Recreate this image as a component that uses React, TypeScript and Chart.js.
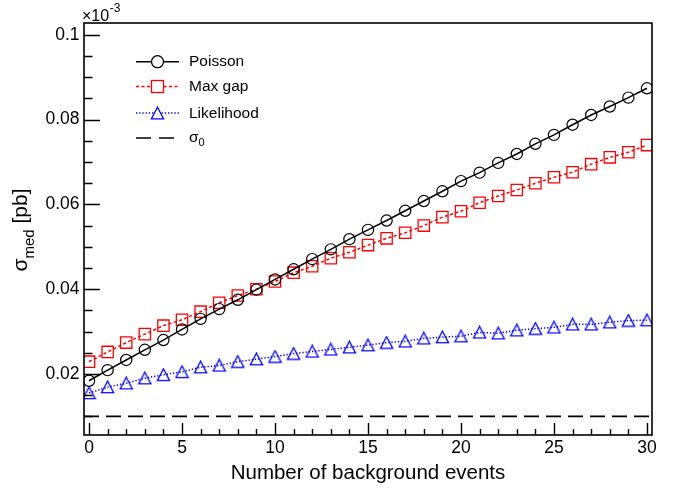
import React, { useEffect, useRef } from 'react';
import { Chart, registerables } from 'chart.js';

Chart.register(...registerables);

// ---------- data ----------
const BKG = [0, 1, 2, 3, 4, 5, 6, 7, 8, 9, 10, 11, 12, 13, 14, 15, 16, 17, 18, 19, 20, 21, 22, 23, 24, 25, 26, 27, 28, 29, 30];
const POISSON = [0.0184, 0.0209, 0.0233, 0.0257, 0.0280, 0.0305, 0.0330, 0.0353, 0.0375, 0.0399, 0.0423, 0.0447, 0.0471, 0.0494, 0.0518, 0.0540, 0.0562, 0.0585, 0.0608, 0.0631, 0.0655, 0.0675, 0.0698, 0.0719, 0.0743, 0.0764, 0.0788, 0.0811, 0.0831, 0.0852, 0.0874];
const MAX_GAP = [0.0229, 0.0252, 0.0274, 0.0294, 0.0314, 0.0328, 0.0347, 0.0368, 0.0385, 0.0400, 0.0418, 0.0439, 0.0454, 0.0473, 0.0487, 0.0504, 0.0520, 0.0533, 0.0550, 0.0570, 0.0584, 0.0604, 0.0620, 0.0634, 0.0650, 0.0664, 0.0676, 0.0695, 0.0711, 0.0723, 0.0740];
const LIKELIHOOD = [0.0155, 0.0169, 0.0178, 0.0190, 0.0198, 0.0205, 0.0216, 0.0220, 0.0229, 0.0235, 0.0241, 0.0248, 0.0253, 0.0258, 0.0263, 0.0268, 0.0274, 0.0277, 0.0284, 0.0287, 0.0289, 0.0298, 0.0296, 0.0303, 0.0307, 0.0310, 0.0317, 0.0317, 0.0322, 0.0326, 0.0327];
const SIGMA0 = 0.01;

const X_MIN = -0.27;
const X_MAX = 30.27;
const Y_MIN = 0.0056;
const Y_MAX = 0.1028;

const X_TICKS = [0, 5, 10, 15, 20, 25, 30];
const X_TICK_LABELS = ['0', '5', '10', '15', '20', '25', '30'];
const Y_TICKS = [0.02, 0.04, 0.06, 0.08, 0.1];
const Y_TICK_LABELS = ['0.02', '0.04', '0.06', '0.08', '0.1'];
const X_MINOR_STEP = 1;
const Y_MINOR_STEP = 0.005;

const SERIES_NAMES = ['Poisson', 'Max gap', 'Likelihood'];
const X_TITLE = 'Number of background events';
const Y_TITLE = ['σ', 'med', ' [pb]'];
const SIGMA0_LABEL = ['σ', '0'];
const EXPONENT = ['×10', '-3'];

const FONT = '"Liberation Sans", Arial, Helvetica, sans-serif';
const RED = '#ff0000';
const BLUE = '#0000ff';
const BLACK = '#000000';

function makeTriangle(color: string): HTMLCanvasElement {
  const c = document.createElement('canvas');
  c.width = 15;
  c.height = 14;
  const ctx = c.getContext('2d')!;
  ctx.strokeStyle = color;
  ctx.lineWidth = 1.3;
  ctx.beginPath();
  ctx.moveTo(7.5, 1);
  ctx.lineTo(13.6, 12.6);
  ctx.lineTo(1.4, 12.6);
  ctx.closePath();
  ctx.stroke();
  return c;
}

export default function App() {
  const ref = useRef<HTMLCanvasElement | null>(null);

  useEffect(() => {
    if (!ref.current) return;
    const tri = makeTriangle(BLUE);

    const decor = {
      id: 'rootDecor',
      afterDraw(chart: any) {
        const ctx: CanvasRenderingContext2D = chart.ctx;
        const { left, right, top, bottom } = chart.chartArea;
        const xs = chart.scales.x;
        const ys = chart.scales.y;
        ctx.save();
        ctx.strokeStyle = BLACK;
        ctx.fillStyle = BLACK;

        // frame
        ctx.lineWidth = 1.6;
        ctx.strokeRect(left, top, right - left, bottom - top);

        // x ticks (inside)
        ctx.lineWidth = 1.4;
        ctx.beginPath();
        for (let k = Math.ceil(X_MIN / X_MINOR_STEP); k * X_MINOR_STEP <= X_MAX; k++) {
          const v = k * X_MINOR_STEP;
          const px = Math.round(xs.getPixelForValue(v)) + 0.5;
          const major = X_TICKS.includes(v);
          ctx.moveTo(px, bottom);
          ctx.lineTo(px, bottom - (major ? 12 : 6));
        }
        // y ticks (inside)
        for (let k = Math.ceil(Y_MIN / Y_MINOR_STEP); k * Y_MINOR_STEP <= Y_MAX + 1e-9; k++) {
          const v = k * Y_MINOR_STEP;
          const py = Math.round(ys.getPixelForValue(v)) + 0.5;
          const major = Y_TICKS.some((t) => Math.abs(t - v) < 1e-9);
          ctx.moveTo(left, py);
          ctx.lineTo(left + (major ? 16 : 8.5), py);
        }
        ctx.stroke();

        // exponent label
        ctx.textBaseline = 'alphabetic';
        ctx.textAlign = 'left';
        ctx.font = `16px ${FONT}`;
        ctx.fillText(EXPONENT[0], 82, 21);
        const w10 = ctx.measureText(EXPONENT[0]).width;
        ctx.font = `12px ${FONT}`;
        ctx.fillText(EXPONENT[1], 82 + w10 + 0.5, 12);

        // x title
        ctx.font = `20.5px ${FONT}`;
        ctx.textAlign = 'center';
        ctx.fillText(X_TITLE, (left + right) / 2, 479);

        // y title (rotated, with subscript)
        ctx.save();
        ctx.translate(27, 230);
        ctx.rotate(-Math.PI / 2);
        ctx.textAlign = 'left';
        const bigF = `21px ${FONT}`;
        const subF = `15px ${FONT}`;
        ctx.font = bigF;
        const w1 = ctx.measureText(Y_TITLE[0]).width;
        const w3 = ctx.measureText(Y_TITLE[2]).width;
        ctx.font = subF;
        const w2 = ctx.measureText(Y_TITLE[1]).width;
        let sx = -(w1 + w2 + w3) / 2;
        ctx.font = bigF;
        ctx.fillText(Y_TITLE[0], sx, 0);
        sx += w1;
        ctx.font = subF;
        ctx.fillText(Y_TITLE[1], sx, 7);
        sx += w2;
        ctx.font = bigF;
        ctx.fillText(Y_TITLE[2], sx, 0);
        ctx.restore();

        // legend
        const lx1 = 136;
        const lx2 = 179;
        const mx = 157.5;
        const tx = 189;
        const rows = [61.7, 86.5, 113, 138];
        const styles = [
          { color: BLACK, dash: [] as number[], marker: 'circle' },
          { color: RED, dash: [3, 2.5], marker: 'rect' },
          { color: BLUE, dash: [1.3, 1.9], marker: 'tri' },
          { color: BLACK, dash: [15, 8], marker: 'none' },
        ];
        styles.forEach((s, i) => {
          const y = rows[i];
          ctx.save();
          ctx.strokeStyle = s.color;
          ctx.lineWidth = i === 3 ? 1.6 : 1.5;
          ctx.setLineDash(s.dash);
          ctx.beginPath();
          ctx.moveTo(lx1, y);
          ctx.lineTo(lx2, y);
          ctx.stroke();
          ctx.setLineDash([]);
          ctx.lineWidth = 1.3;
          if (s.marker === 'circle') {
            ctx.fillStyle = '#ffffff';
            ctx.beginPath();
            ctx.arc(mx, y, 6, 0, Math.PI * 2);
            ctx.fill();
            ctx.stroke();
          } else if (s.marker === 'rect') {
            ctx.fillStyle = '#ffffff';
            ctx.fillRect(mx - 6, y - 6, 12, 12);
            ctx.strokeRect(mx - 6, y - 6, 12, 12);
          } else if (s.marker === 'tri') {
            ctx.fillStyle = '#ffffff';
            ctx.beginPath();
            ctx.moveTo(mx, y - 5.8);
            ctx.lineTo(mx + 6.1, y + 5.8);
            ctx.lineTo(mx - 6.1, y + 5.8);
            ctx.closePath();
            ctx.fill();
            ctx.stroke();
          }
          ctx.restore();
          ctx.fillStyle = BLACK;
          ctx.textAlign = 'left';
          ctx.textBaseline = 'middle';
          ctx.font = `15.5px ${FONT}`;
          if (i < 3) {
            ctx.fillText(SERIES_NAMES[i], tx, y + 0.5);
          } else {
            ctx.fillText(SIGMA0_LABEL[0], tx, y - 0.5);
            const ws = ctx.measureText(SIGMA0_LABEL[0]).width;
            ctx.font = `11px ${FONT}`;
            ctx.fillText(SIGMA0_LABEL[1], tx + ws, y + 5);
          }
        });
        ctx.restore();
      },
    };

    const chart = new Chart(ref.current, {
      type: 'line',
      data: {
        datasets: [
          {
            label: SERIES_NAMES[0],
            data: BKG.map((x, i) => ({ x, y: POISSON[i] })),
            borderColor: BLACK,
            borderWidth: 1.5,
            pointStyle: 'circle',
            pointRadius: 5.6,
            pointBorderWidth: 1.2,
            pointBorderColor: BLACK,
            pointBackgroundColor: 'rgba(0,0,0,0)',
            tension: 0,
          },
          {
            label: SERIES_NAMES[1],
            data: BKG.map((x, i) => ({ x, y: MAX_GAP[i] })),
            borderColor: RED,
            borderWidth: 1.5,
            borderDash: [3, 2.5],
            pointStyle: 'rect',
            pointRadius: 8,
            pointBorderWidth: 1.3,
            pointBorderColor: RED,
            pointBackgroundColor: 'rgba(0,0,0,0)',
            tension: 0,
          },
          {
            label: SERIES_NAMES[2],
            data: BKG.map((x, i) => ({ x, y: LIKELIHOOD[i] })),
            borderColor: BLUE,
            borderWidth: 1.5,
            borderDash: [1.3, 1.9],
            pointStyle: tri as any,
            pointRadius: 7,
            tension: 0,
          },
          {
            label: 'sigma0',
            data: [
              { x: X_MIN, y: SIGMA0 },
              { x: X_MAX, y: SIGMA0 },
            ],
            borderColor: BLACK,
            borderWidth: 1.6,
            borderDash: [15, 7],
            pointRadius: 0,
            tension: 0,
          },
        ],
      },
      options: {
        animation: false,
        responsive: false,
        events: [],
        layout: { padding: { left: 0, right: 23, top: 23, bottom: 0 } },
        plugins: {
          legend: { display: false },
          tooltip: { enabled: false },
          title: { display: false },
        },
        scales: {
          x: {
            type: 'linear',
            min: X_MIN,
            max: X_MAX,
            grid: { display: false, drawTicks: false },
            border: { display: false },
            afterBuildTicks: (s: any) => {
              s.ticks = X_TICKS.map((v) => ({ value: v }));
            },
            afterFit: (s: any) => {
              s.height = 54;
            },
            ticks: {
              padding: 3,
              maxRotation: 0,
              autoSkip: false,
              color: BLACK,
              font: { family: FONT, size: 17.5 },
              callback: (v: any) => X_TICK_LABELS[X_TICKS.indexOf(Number(v))] ?? '',
            },
          },
          y: {
            type: 'linear',
            min: Y_MIN,
            max: Y_MAX,
            grid: { display: false, drawTicks: false },
            border: { display: false },
            afterBuildTicks: (s: any) => {
              s.ticks = Y_TICKS.map((v) => ({ value: v }));
            },
            afterFit: (s: any) => {
              s.width = 84;
            },
            ticks: {
              padding: 4.5,
              autoSkip: false,
              color: BLACK,
              font: { family: FONT, size: 17.5 },
              callback: (v: any) => {
                const i = Y_TICKS.findIndex((t) => Math.abs(t - Number(v)) < 1e-9);
                return i >= 0 ? Y_TICK_LABELS[i] : '';
              },
            },
          },
        },
      },
      plugins: [decor],
    });

    return () => chart.destroy();
  }, []);

  return (
    <div style={{ position: 'fixed', left: 0, top: 0, width: 675, height: 489, background: '#ffffff' }}>
      <canvas ref={ref} width={675} height={489} style={{ display: 'block' }} />
    </div>
  );
}
